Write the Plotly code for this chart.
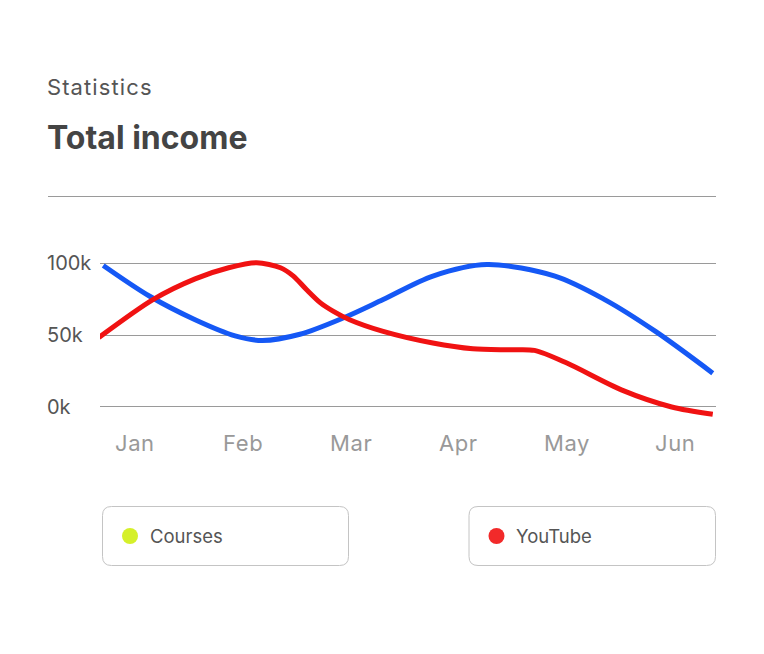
import plotly.graph_objects as go

# ---- data ----
months = ["Jan", "Feb", "Mar", "Apr", "May", "Jun"]
month_pos = [0, 1, 2, 3, 4, 5]
y_ticks = [0, 50, 100]
y_tick_labels = ["0k", "50k", "100k"]

courses_x = [-0.29, 0.14, 0.56, 0.93, 1.18, 1.53, 1.93, 2.30, 2.76, 3.26, 3.89, 4.35, 4.82, 5.35]
courses_y = [98.3, 76.9, 60.6, 49.4, 46.2, 50.5, 61.8, 74.6, 90.9, 98.9, 90.9, 74.6, 52.5, 23.5]

youtube_x = [-0.33, 0.17, 0.56, 0.87, 1.13, 1.35, 1.47, 1.59, 1.72, 1.84, 1.99, 2.30, 2.76, 3.13,
             3.47, 3.70, 4.00, 4.51, 4.97, 5.35]
youtube_y = [48.3, 74.6, 89.0, 96.7, 100.2, 96.7, 90.9, 81.6, 72.3, 66.4, 60.6, 52.5, 44.4, 40.4,
             39.7, 39.3, 30.5, 11.7, 0.0, -5.1]

series_names = ["Courses", "YouTube"]
line_colors = ["#1558f5", "#f01212"]
dot_colors = ["#d5f02a", "#f22a2a"]

# ---- layout geometry (reference pixels; page renders the figure offset by OFF) ----
W, H = 764, 654
OFF = 8
PL, PR, PT, PB = 100, 716, 240, 430
ml, mr, mt, mb = PL - OFF, W - (PR - OFF), PT - OFF, H - (PB - OFF)
pw, ph = PR - PL, PB - PT


def px(x):
    return (x - PL) / pw


def py(y):
    return (PB - y) / ph


FONT = "Inter, Roboto, sans-serif"


def spaced(text, sp):
    return f'<span style="letter-spacing:{sp}px">{text}</span>'


fig = go.Figure()
fig.add_trace(go.Scatter(x=courses_x, y=courses_y, mode="lines", name=series_names[0],
                         line=dict(color=line_colors[0], width=5, shape="spline", smoothing=0.9),
                         hoverinfo="skip"))
fig.add_trace(go.Scatter(x=youtube_x, y=youtube_y, mode="lines", name=series_names[1],
                         line=dict(color=line_colors[1], width=5, shape="spline", smoothing=0.8),
                         hoverinfo="skip"))

shapes = []
annotations = []

# header line
shapes.append(dict(type="line", xref="paper", yref="paper", x0=px(48), x1=px(716), y0=py(196.5), y1=py(196.5),
                   line=dict(color="#9a9a9a", width=1)))

# titles
annotations.append(dict(text=spaced("Statistics", 1.1), xref="paper", yref="paper", x=px(45), y=py(87),
                        xanchor="left", yanchor="middle", showarrow=False,
                        font=dict(family=FONT, size=22, color="#555555")))
annotations.append(dict(text="<b>Total income</b>", xref="paper", yref="paper", x=px(45), y=py(137),
                        xanchor="left", yanchor="middle", showarrow=False,
                        font=dict(family=FONT, size=32, color="#444444")))

# y tick labels (left aligned)
for v, lab in zip(y_ticks, y_tick_labels):
    annotations.append(dict(text=lab, xref="paper", yref="y", x=px(45), y=v,
                            xanchor="left", yanchor="middle", showarrow=False,
                            font=dict(family=FONT, size=20, color="#555555")))

# x tick labels
for m, lab in zip(month_pos, months):
    annotations.append(dict(text=spaced(lab, 0.6), xref="x", yref="paper", x=m, y=py(443),
                            xanchor="center", yanchor="middle", showarrow=False,
                            font=dict(family=FONT, size=22, color="#999999")))


# legend boxes
def rounded_rect(x0, y0, x1, y1, r):
    X0, X1 = px(x0), px(x1)
    Y0, Y1 = py(y0), py(y1)
    rx, ry = r / pw, r / ph
    return (f"M {X0+rx},{Y0} L {X1-rx},{Y0} Q {X1},{Y0} {X1},{Y0-ry} "
            f"L {X1},{Y1+ry} Q {X1},{Y1} {X1-rx},{Y1} "
            f"L {X0+rx},{Y1} Q {X0},{Y1} {X0},{Y1+ry} "
            f"L {X0},{Y0-ry} Q {X0},{Y0} {X0+rx},{Y0} Z")


boxes = [(102.5, 506.5, 348.5, 565.5), (469, 506.5, 715.5, 565.5)]
for (x0, y0, x1, y1), name, col in zip(boxes, series_names, dot_colors):
    shapes.append(dict(type="path", xref="paper", yref="paper", path=rounded_rect(x0, y0, x1, y1, 9),
                       line=dict(color="#c4c4c4", width=1), fillcolor="rgba(0,0,0,0)"))
    cx, cy = x0 + 27.5, (y0 + y1) / 2
    shapes.append(dict(type="circle", xref="paper", yref="paper", xsizemode="pixel", ysizemode="pixel",
                       xanchor=px(cx), yanchor=py(cy), x0=-8, x1=8, y0=-8, y1=8,
                       fillcolor=col, line=dict(width=0)))
    annotations.append(dict(text=name, xref="paper", yref="paper", x=px(x0 + 45), y=py(cy),
                            xanchor="left", yanchor="middle", showarrow=False,
                            font=dict(family=FONT, size=18.5, color="#555555")))

fig.update_layout(
    width=W, height=H,
    margin=dict(l=ml, r=mr, t=mt, b=mb, pad=0),
    paper_bgcolor="white", plot_bgcolor="white",
    showlegend=False,
    shapes=shapes, annotations=annotations,
    xaxis=dict(range=[-0.32, 5.38], showgrid=False, zeroline=False, showticklabels=False,
               showline=False, ticks="", fixedrange=True),
    yaxis=dict(range=[-16, 116], tickvals=y_ticks, showticklabels=False, showgrid=True,
               gridcolor="#9a9a9a", gridwidth=1, zeroline=False, showline=False, ticks="",
               fixedrange=True),
)

fig.write_html("out.html", config={"displayModeBar": False})
